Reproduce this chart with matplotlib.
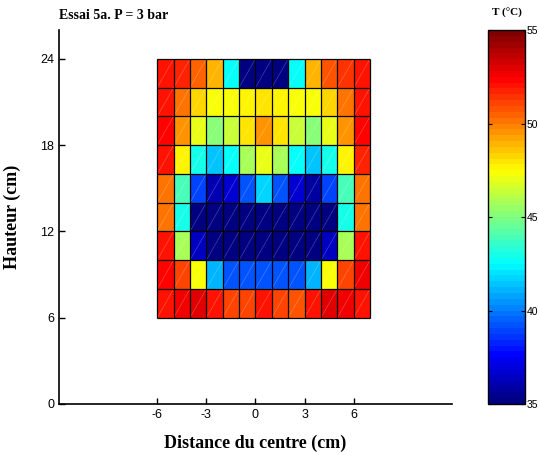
import numpy as np
import matplotlib
matplotlib.use("Agg")
import matplotlib.pyplot as plt
from matplotlib.colors import LinearSegmentedColormap

plt.rcParams["axes.unicode_minus"] = False

# Cell edges (cm)
x_edges = [-6, -5, -4, -3, -2, -1, 0, 1, 2, 3, 4, 5, 6, 7]
y_edges = [6, 8, 10, 12, 14, 16, 18, 20, 22, 24]

# Temperature (°C), rows from bottom (y 6-8) to top (y 22-24)
row_06 = [51.9, 52.5, 53.0, 51.9, 51.0, 51.2, 51.9, 51.2, 50.8, 51.9, 53.0, 52.5, 51.9]
row_08 = [52.2, 51.0, 47.3, 41.0, 39.2, 39.2, 39.2, 39.2, 39.2, 41.0, 47.3, 51.0, 52.5]
row_10 = [52.0, 45.8, 36.5, 35.3, 35.3, 35.3, 35.3, 35.3, 35.3, 35.3, 36.5, 45.8, 52.0]
row_12 = [50.0, 43.0, 35.3, 35.3, 35.3, 35.3, 35.3, 35.3, 35.3, 35.3, 35.3, 43.0, 50.0]
row_14 = [50.1, 44.0, 39.0, 36.0, 36.7, 39.1, 41.7, 39.1, 36.7, 35.9, 38.9, 44.0, 50.1]
row_16 = [52.0, 47.5, 43.0, 41.5, 42.5, 45.7, 47.0, 45.8, 42.5, 41.5, 43.0, 47.5, 51.8]
row_18 = [52.2, 49.4, 47.0, 45.3, 46.3, 48.0, 49.4, 48.0, 46.3, 45.3, 47.0, 49.4, 52.2]
row_20 = [51.9, 50.0, 48.3, 47.2, 47.2, 47.5, 48.0, 47.5, 47.2, 47.2, 48.3, 50.0, 52.0]
row_22 = [52.0, 51.6, 50.6, 49.0, 42.5, 35.0, 35.0, 35.2, 42.5, 49.0, 50.8, 51.5, 52.0]

T = np.array([row_06, row_08, row_10, row_12, row_14, row_16, row_18, row_20, row_22])

x_ticks = [-6, -3, 0, 3, 6]
y_ticks = [0, 6, 12, 18, 24]
cbar_ticks = [35, 40, 45, 50, 55]

# MATLAB-style jet colormap
jet_m = LinearSegmentedColormap.from_list(
    "jet_matlab",
    [(0.0, (0, 0, 0.5)), (0.125, (0, 0, 1)), (0.375, (0, 1, 1)),
     (0.625, (1, 1, 0)), (0.875, (1, 0, 0)), (1.0, (0.5, 0, 0))], N=64)

fig = plt.figure(figsize=(5.39, 4.55), dpi=100)
ax = fig.add_axes([0.1095, 0.1121, 0.729, 0.8219])
cax = fig.add_axes([0.9054, 0.1121, 0.0686, 0.8219])

X, Y = np.meshgrid(x_edges, y_edges)
mesh = ax.pcolormesh(X, Y, T, cmap=jet_m, vmin=35, vmax=55,
                     edgecolors="none", antialiased=False)

# faint diagonals inside each cell
for i in range(len(y_edges) - 1):
    for j in range(len(x_edges) - 1):
        ax.plot([x_edges[j], x_edges[j + 1]], [y_edges[i], y_edges[i + 1]],
                color="white", alpha=0.22, lw=0.6, zorder=3)

# cell borders
ax.vlines(x_edges, y_edges[0], y_edges[-1], colors="black", lw=0.9, zorder=4)
ax.hlines(y_edges, x_edges[0], x_edges[-1], colors="black", lw=0.9, zorder=4)

ax.set_xlim(-12, 12)
ax.set_ylim(0, 26)
ax.set_xticks(x_ticks)
ax.set_yticks(y_ticks)
ax.spines["top"].set_visible(False)
ax.spines["right"].set_visible(False)
ax.tick_params(direction="in", length=4, width=1, labelsize=9,
               labelfontfamily="Liberation Sans")
for s in ["left", "bottom"]:
    ax.spines[s].set_linewidth(1.2)

serif = "Liberation Serif"
ax.set_xlabel("Distance du centre (cm)", fontsize=13, fontweight="bold",
              family=serif, labelpad=10)
ax.set_ylabel("Hauteur (cm)", fontsize=13, fontweight="bold",
              family=serif, labelpad=14)
ax.set_title("Essai 5a. P = 3 bar", fontsize=10, fontweight="bold",
             family=serif, loc="left", pad=8)

cb = fig.colorbar(mesh, cax=cax, ticks=cbar_ticks)
cb.outline.set_linewidth(1.0)
cax.tick_params(direction="in", length=3, labelsize=7.5, right=True, left=True,
                pad=1, labelfontfamily="Liberation Sans")
cax.set_title("T (°C)", fontsize=8, fontweight="bold", family=serif, pad=10)

fig.savefig("out.png", dpi=100)
